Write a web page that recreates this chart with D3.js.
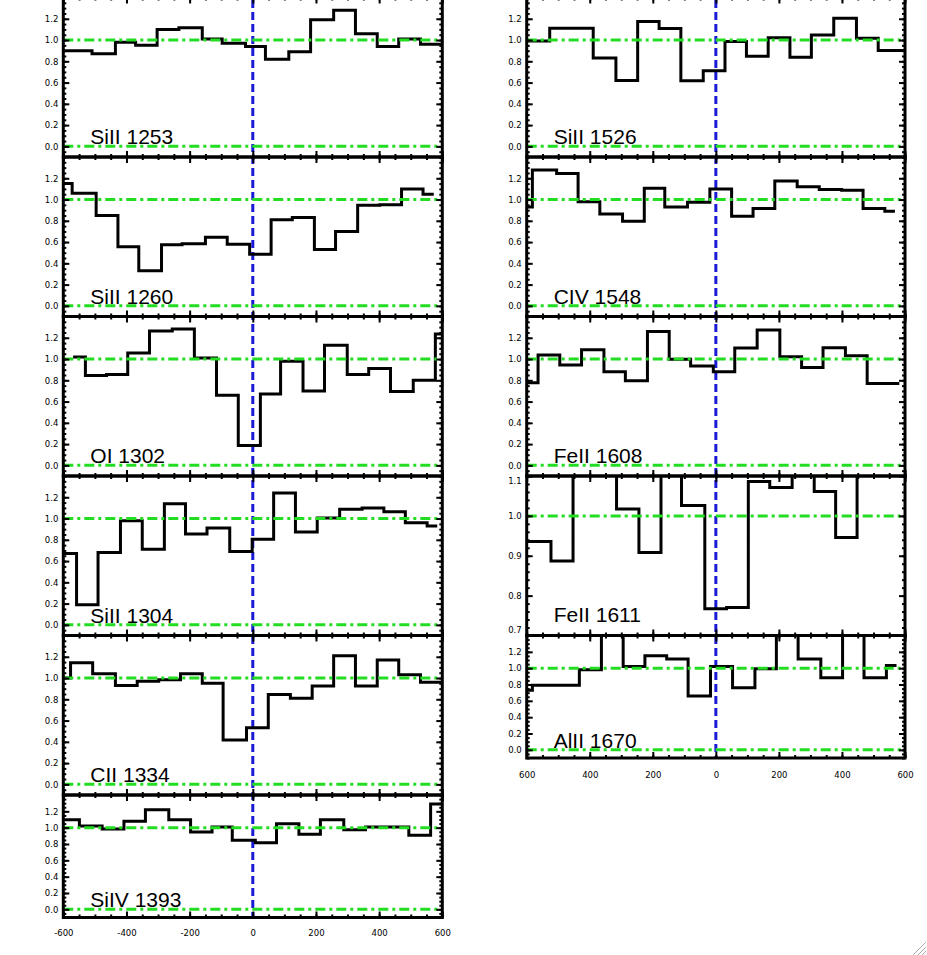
<!DOCTYPE html>
<html><head><meta charset="utf-8">
<script src="https://cdn.jsdelivr.net/npm/d3@7/dist/d3.min.js"></script>
<style>body{margin:0;background:#fff;} svg{display:block;}</style>
</head><body>
<svg id="chart" width="927" height="955"></svg>
<script>
// ---------------- data (velocity bin edges in km/s, normalised flux) ----------------
const siII1253Edges = [-600,-509,-435,-371,-303,-234,-160,-97,-23,40,114,183,256,325,394,462,531,600];
const siII1253Flux  = [0.90,0.87,0.98,0.95,1.10,1.115,1.01,0.97,0.94,0.82,0.89,1.19,1.28,1.06,0.94,1.01,0.96];

const siII1260Edges = [-600,-572,-496,-427,-361,-289,-224,-150,-81,-10,58,125,195,262,332,402,471,539,573];
const siII1260Flux  = [1.15,1.06,0.85,0.555,0.33,0.575,0.585,0.645,0.58,0.485,0.81,0.83,0.53,0.70,0.946,0.95,1.10,1.05];

const oI1302Edges = [-569,-530,-463,-396,-327,-255,-185,-115,-46,24,88,159,227,299,367,436,508,578,600];
const oI1302Flux  = [1.02,0.846,0.855,1.057,1.264,1.283,1.01,0.66,0.186,0.67,0.98,0.70,1.13,0.855,0.91,0.695,0.80,1.235];

const siII1304Edges = [-600,-558,-490,-419,-350,-280,-213,-145,-73,-2,66,135,204,275,346,415,483,552,584];
const siII1304Flux  = [0.67,0.19,0.68,0.98,0.71,1.14,0.855,0.91,0.69,0.805,1.24,0.874,1.006,1.088,1.10,1.063,0.96,0.93];

const cII1334Edges = [-600,-577,-507,-435,-366,-298,-229,-160,-94,-20,49,119,188,256,325,394,462,531,600];
const cII1334Flux  = [1.0,1.144,1.04,0.93,0.97,0.985,1.04,0.95,0.417,0.533,0.846,0.81,0.925,1.21,0.925,1.17,1.03,0.96];

const siIV1393Edges = [-600,-549,-477,-408,-340,-266,-197,-129,-65,8,75,146,214,288,357,425,494,563,600];
const siIV1393Flux  = [1.097,1.02,0.984,1.08,1.22,1.097,0.948,1.008,0.847,0.815,1.048,0.92,1.097,0.976,1.008,1.008,0.907,1.29];

const siII1526Edges = [-600,-527,-458,-389,-317,-248,-180,-111,-40,29,97,166,235,303,374,446,515,600];
const siII1526Flux  = [0.99,1.11,1.11,0.83,0.62,1.174,1.108,0.617,0.712,0.987,0.848,1.022,0.839,1.047,1.206,1.016,0.902];

const cIV1548Edges = [-600,-582,-505,-437,-368,-296,-227,-162,-90,-19,50,118,187,258,328,399,467,536,568];
const cIV1548Flux  = [0.93,1.278,1.246,0.978,0.864,0.795,1.107,0.93,0.975,1.098,0.842,0.915,1.174,1.12,1.095,1.088,0.915,0.89];

const feII1608Edges = [-600,-564,-495,-426,-355,-287,-217,-148,-80,-8,60,131,203,272,340,411,480,548,582];
const feII1608Flux  = [0.777,1.038,0.943,1.088,0.88,0.796,1.258,0.997,0.934,0.88,1.104,1.274,1.022,0.921,1.107,1.03,0.77,0.77];

const feII1611Edges = [-600,-523,-453,-384,-315,-244,-174,-109,-35,34,103,171,242,312,380,448,518,600];
const feII1611Flux  = [0.936,0.887,1.13,1.13,1.017,0.908,1.13,1.026,0.767,0.77,1.086,1.071,1.13,1.061,0.946,1.13,1.13];

const alII1670Edges = [-600,-582,-508,-433,-363,-294,-225,-156,-88,-17,53,124,192,261,333,402,470,541,573];
const alII1670Flux  = [0.73,0.79,0.79,0.98,1.45,1.02,1.153,1.112,0.659,1.02,0.759,0.992,1.45,1.112,0.884,1.45,0.884,1.032];

const lineNames = ["SiII 1253","SiII 1260","OI 1302","SiII 1304","CII 1334","SiIV 1393",
                   "SiII 1526","CIV 1548","FeII 1608","FeII 1611","AlII 1670"];

const xTicksLeft   = [-600,-400,-200,0,200,400,600];
const xLabelsLeft  = ["-600","-400","-200","0","200","400","600"];
const xLabelsRight = ["600","400","200","0","200","400","600"];
const yTicksStd    = [0.0,0.2,0.4,0.6,0.8,1.0,1.2];
const yTicksFe1611 = [0.7,0.8,0.9,1.0,1.1];
const refLevels    = [0.0,1.0];

// ---------------- layout ----------------
const svg = d3.select("#chart");
const colX = [[63.3,442.3],[526.7,905]];
const fullH = 159.5, shortH = 122.5, top0 = -2.5;

const panels = [
  {edges:siII1253Edges, flux:siII1253Flux, col:0},
  {edges:siII1260Edges, flux:siII1260Flux, col:0},
  {edges:oI1302Edges,   flux:oI1302Flux,   col:0},
  {edges:siII1304Edges, flux:siII1304Flux, col:0},
  {edges:cII1334Edges,  flux:cII1334Flux,  col:0},
  {edges:siIV1393Edges, flux:siIV1393Flux, col:0, last:true},
  {edges:siII1526Edges, flux:siII1526Flux, col:1},
  {edges:cIV1548Edges,  flux:cIV1548Flux,  col:1},
  {edges:feII1608Edges, flux:feII1608Flux, col:1},
  {edges:feII1611Edges, flux:feII1611Flux, col:1, fe:true},
  {edges:alII1670Edges, flux:alII1670Flux, col:1, last:true}
];
panels.forEach((p,i)=>p.name=lineNames[i]);

const colTop = [top0, top0];
const colBottom = [0,0];
const green = "#22dd22", blue = "#1a1ad6";

const xScales = colX.map(r => d3.scaleLinear().domain([-600,600]).range(r));

panels.forEach((p,i)=>{
  const c = p.col;
  const h = p.last ? shortH : fullH;
  const top = colTop[c], bottom = top + h;
  colTop[c] = bottom; colBottom[c] = bottom;
  const x = xScales[c];
  const [x0,x1] = colX[c];
  const yDom = p.fe ? [0.7,1.1] : [-0.1,1.4];
  const y = d3.scaleLinear().domain(yDom).range([bottom, top]);
  const g = svg.append("g");

  const clipId = "clip"+i;
  svg.append("clipPath").attr("id",clipId).append("rect")
     .attr("x",x0).attr("y",top).attr("width",x1-x0).attr("height",h);

  // histogram
  const pts = p.flux.map((v,k)=>[p.edges[k],v]);
  pts.push([p.edges[p.edges.length-1], p.flux[p.flux.length-1]]);
  const line = d3.line().x(d=>x(d[0])).y(d=>y(d[1])).curve(d3.curveStepAfter);
  g.append("path").attr("d",line(pts)).attr("clip-path",`url(#${clipId})`)
   .attr("fill","none").attr("stroke","#000").attr("stroke-width",3)
   .attr("stroke-linejoin","miter");

  // green reference lines
  refLevels.filter(v=>v>=yDom[0] && v<=yDom[1]).forEach(v=>{
    g.append("line").attr("x1",x0).attr("x2",x1).attr("y1",y(v)).attr("y2",y(v))
     .attr("stroke",green).attr("stroke-width",3).attr("stroke-dasharray","10,4,3,4");
  });

  // axes
  const yMajor = p.fe ? yTicksFe1611 : yTicksStd;
  const yMinorStep = p.fe ? 0.02 : 0.05;
  const yMinor = d3.range(Math.ceil(yDom[0]/yMinorStep)*yMinorStep, yDom[1]+1e-9, yMinorStep);
  const xMinor = d3.range(-600,601,50);

  const axL = g.append("g").attr("transform",`translate(${x0},0)`)
    .call(d3.axisLeft(y).tickValues(yMajor).tickSize(-6).tickPadding(5).tickFormat(d3.format(".1f")));
  g.append("g").attr("transform",`translate(${x0},0)`)
    .call(d3.axisLeft(y).tickValues(yMinor).tickSize(-3).tickFormat(""));
  g.append("g").attr("transform",`translate(${x1},0)`)
    .call(d3.axisRight(y).tickValues(yMajor).tickSize(-6).tickFormat(""));
  g.append("g").attr("transform",`translate(${x1},0)`)
    .call(d3.axisRight(y).tickValues(yMinor).tickSize(-3).tickFormat(""));
  g.append("g").attr("transform",`translate(0,${top})`)
    .call(d3.axisTop(x).tickValues(xTicksLeft).tickSize(-6).tickFormat(""));
  g.append("g").attr("transform",`translate(0,${top})`)
    .call(d3.axisTop(x).tickValues(xMinor).tickSize(-3).tickFormat(""));
  g.append("g").attr("transform",`translate(0,${bottom})`)
    .call(d3.axisBottom(x).tickValues(xTicksLeft).tickSize(-6).tickPadding(c===0?12:14)
      .tickFormat(p.last ? (d,k)=>(c===0?xLabelsLeft:xLabelsRight)[k] : ""));
  g.append("g").attr("transform",`translate(0,${bottom})`)
    .call(d3.axisBottom(x).tickValues(xMinor).tickSize(-3).tickFormat(""));

  g.selectAll(".domain").remove();
  g.selectAll(".tick line").attr("stroke","#000").attr("stroke-width",2);
  g.selectAll(".tick text").attr("font-family","DejaVu Sans, sans-serif")
    .attr("font-size","8.5px").attr("fill","#000");
  axL.selectAll(".tick text").attr("dy",function(d){
    const yy = y(d);
    if (yy - top < 6) return "0.85em";
    if (bottom - yy < 6) return "-0.4em";
    return "0.32em";
  });

  // border
  g.append("rect").attr("x",x0).attr("y",top).attr("width",x1-x0).attr("height",h)
   .attr("fill","none").attr("stroke","#000").attr("stroke-width",3);

  // label
  const base = (yDom[0] <= 0) ? y(0)-2 : bottom-14;
  g.append("text").attr("x",x0+27).attr("y",base).text(p.name)
   .attr("font-family","Liberation Sans, Arial, sans-serif").attr("font-size","21px").attr("fill","#000");
  p.g = g;
});

// blue dashed zero-velocity lines per column
[0,1].forEach(c=>{
  svg.append("line").attr("x1",xScales[c](0)).attr("x2",xScales[c](0))
    .attr("y1",0).attr("y2",colBottom[c])
    .attr("stroke",blue).attr("stroke-width",3).attr("stroke-dasharray","8,4");
});

// re-draw panels (borders, ticks) above blue lines
panels.forEach(p=>p.g.raise());

// small resize-grip decoration in the bottom-right corner
const grip = svg.append("g").attr("stroke","#b0b0b0").attr("stroke-width",1);
[[926,942,913,955],[926,947,918,955],[926,951,922,955]].forEach(s=>{
  grip.append("line").attr("x1",s[0]).attr("y1",s[1]).attr("x2",s[2]).attr("y2",s[3]);
});
</script>
</body></html>
